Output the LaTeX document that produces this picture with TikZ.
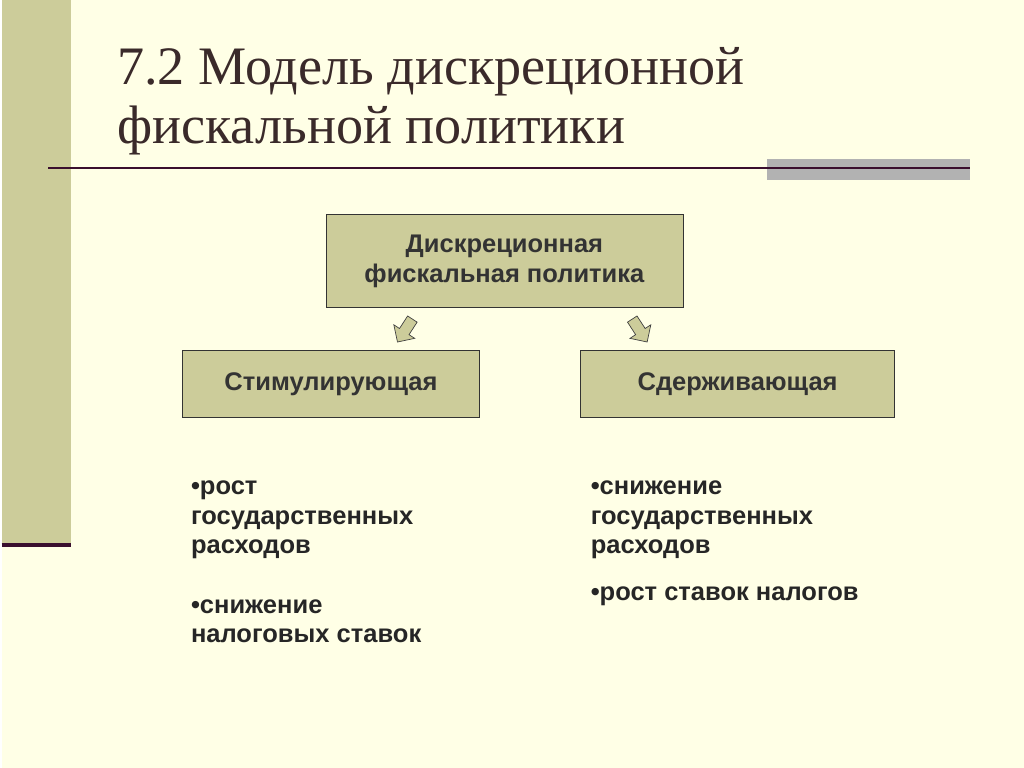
\documentclass[tikz,border=0pt]{standalone}
\usepackage{fontspec}
\setmainfont{Liberation Serif}
\newfontfamily\bodyfont{Liberation Sans}
\usetikzlibrary{shapes.arrows, positioning}
\definecolor{paper}{HTML}{FFFFE6}
\definecolor{olive}{HTML}{CCCC9A}
\definecolor{plum}{HTML}{3A0F2E}
\definecolor{titlecol}{HTML}{3A2A2A}

\begin{document}
\begin{tikzpicture}[x=0.02cm, y=-0.02cm,
    box/.style={draw=black!80, fill=olive, font=\bodyfont\bfseries\fontsize{14.6}{17}\selectfont, text=black!80, align=center, inner sep=0pt},
    blockarrow/.style={single arrow, draw=black!75, fill=olive, minimum height=0.55cm, minimum width=0.5cm, single arrow head extend=0.08cm, inner sep=0.06cm},
    items/.style={font=\bodyfont\bfseries\fontsize{14.6}{17}\selectfont, text=black!85, align=left, anchor=north west, inner sep=0pt} ]

    %Background
    \fill[paper] (-2,-2) rectangle (1026,770);
    \fill[olive] (-2,-2) rectangle (68,545);
    \draw[plum, line width=2pt] (-2,546) -- (68,546);
    \fill[black!30] (768,158) rectangle (972,179);
    \draw[plum, line width=1pt] (45,167) -- (972,167);
    \useasboundingbox (0,0) rectangle (1024,768);

    %Title
    \node[anchor=west, text=titlecol, font=\fontsize{31}{34}\selectfont, align=left] (title) at (108,100) {7.2 Модель дискреционной\\фискальной политики};

    %Nodes
    \node[box, minimum width=359*0.02cm, minimum height=93*0.02cm] (fiscal) at (503.5,260.5) {Дискреционная\\фискальная политика};
    \node[box, minimum width=298*0.02cm, minimum height=68*0.02cm] (stimul) at (329,384) {Стимулирующая};
    \node[box, minimum width=316*0.02cm, minimum height=68*0.02cm] (restrain) at (738,384) {Сдерживающая};
    \node[blockarrow, rotate=-123] (arrowl) at (405,328) {};
    \node[blockarrow, rotate=-57] (arrowr) at (638,328) {};

    \node[items] (listl) at (188,481) {•рост\\государственных\\расходов\\[17pt]•снижение\\налоговых ставок};
    \node[items] (listr) at (590,481) {•снижение\\государственных\\расходов\\[10pt]•рост ставок налогов};
\end{tikzpicture}
\end{document}
